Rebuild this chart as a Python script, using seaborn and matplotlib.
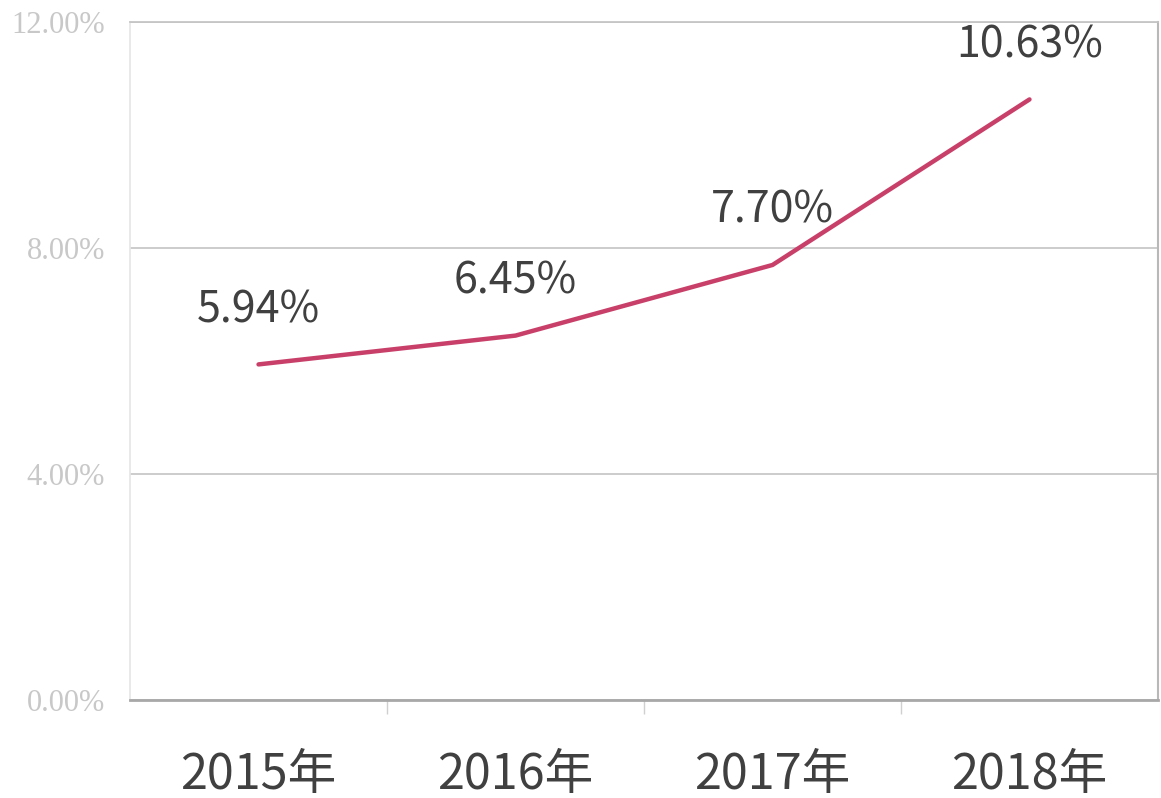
import pandas as pd
import matplotlib.pyplot as plt
import seaborn as sns
from matplotlib.ticker import FuncFormatter

# data
years = ["2015年", "2016年", "2017年", "2018年"]
rates = [5.94, 6.45, 7.70, 10.63]
yticks = [0, 4, 8, 12]

df = pd.DataFrame({"year": years, "rate": rates})

sns.set_theme(style="white")
plt.rcParams['font.family'] = ['Noto Sans CJK SC', 'DejaVu Sans']

fig = plt.figure(figsize=(11.61, 7.98), dpi=100)
ax = fig.add_axes([0.112, 0.1228, 0.8854, 0.8496])

sns.lineplot(data=df, x="year", y="rate", ax=ax, color="#c8406a", linewidth=3.2, sort=False)

ax.set_xlim(-0.5, 3.5)
ax.set_ylim(0, 12)
ax.set_yticks(yticks)
ax.yaxis.set_major_formatter(FuncFormatter(lambda v, p: f"{v:.2f}%"))
ax.grid(axis="y", color="#c4c4c4", linewidth=1.2)
ax.set_axisbelow(True)

# value labels
for i, v in enumerate(rates):
    ax.annotate(f"{v:.2f}%", (i, v), xytext=(0, 39), textcoords="offset points",
                ha="center", va="center", fontsize=31, color="#404040",
                fontweight="medium")

# x ticks on band edges, labels in centre
ax.set_xticks(range(len(years)))
ax.set_xticklabels(years, fontsize=35, color="#404040", fontweight="medium")
ax.set_xticks([0.5, 1.5, 2.5], minor=True)
ax.tick_params(axis="x", which="major", length=0, pad=36)
ax.tick_params(axis="x", which="minor", bottom=True, length=10, color="#d0d0d0", width=1)
for lbl in ax.get_yticklabels():
    lbl.set_family("Liberation Serif")
    lbl.set_color("#c8c8c8")
    lbl.set_fontsize(22)
ax.tick_params(axis="y", length=0, pad=18)

ax.set_xlabel("")
ax.set_ylabel("")
for side in ["left", "right", "top", "bottom"]:
    ax.spines[side].set_visible(True)
ax.spines["left"].set_color("#e6e6e6")
ax.spines["right"].set_color("#b8b8b8")
ax.spines["top"].set_color("#c4c4c4")
ax.spines["bottom"].set_color("#a8a8a8")
ax.spines["bottom"].set_linewidth(2)
ax.spines["right"].set_linewidth(1.5)

plt.savefig("out.png", dpi=100)
